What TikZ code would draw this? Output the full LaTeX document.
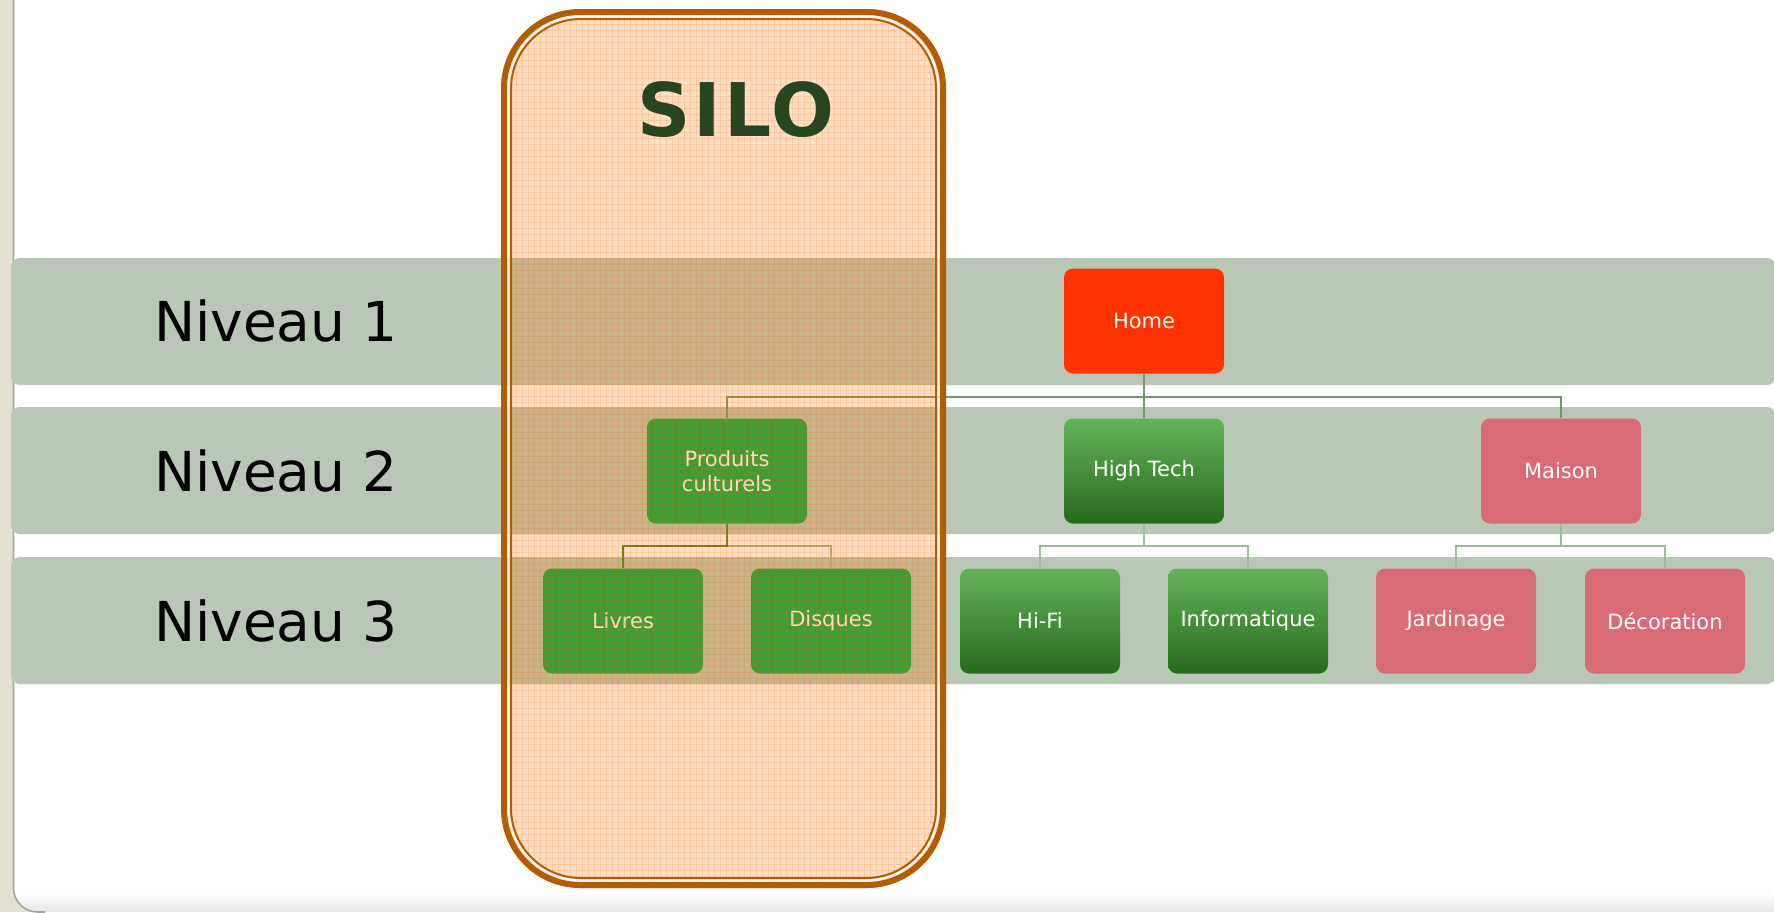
\documentclass[tikz,border=0pt]{standalone}
\usepackage{fontspec}
\setmainfont{DejaVu Sans}
\newfontfamily\silofont[LetterSpace=4]{DejaVu Sans}
\usetikzlibrary{calc,patterns}
\definecolor{band}{HTML}{B9C8B6}
\definecolor{homered}{HTML}{FF3300}
\definecolor{rose}{HTML}{D96B76}
\definecolor{gtop}{HTML}{64B45A}
\definecolor{gbot}{HTML}{266A1C}
\definecolor{flatgreen}{RGB}{0,176,72}
\definecolor{silobrown}{HTML}{B35C00}
\definecolor{siloorange}{RGB}{246,109,0}
\definecolor{silotext}{HTML}{27451F}
\definecolor{linedark}{HTML}{6E9A6E}
\definecolor{linelight}{HTML}{9DBB9B}
\definecolor{lineolive}{HTML}{3F8A25}
\definecolor{beige}{HTML}{E5DED3}
\begin{document}
\begin{tikzpicture}[x=0.5pt,y=-0.5pt,
 box/.style={rounded corners=4.5pt, minimum width=80pt, minimum height=52.5pt, text=white, font=\fontsize{10.5}{12.5}\selectfont, align=center, inner sep=0pt},
 gradbox/.style={box, top color=gtop, bottom color=gbot},
 flatbox/.style={box, fill=flatgreen},
 rosebox/.style={box, fill=rose},
 redbox/.style={box, fill=homered},
 bandbox/.style={fill=band, rounded corners=4.5pt},
 level/.style={font=\fontsize{27.5}{30}\selectfont, text=black},
 conn/.style={draw=linedark, line width=1.1pt},
 connl/.style={draw=linelight, line width=1.1pt},
 connd/.style={draw=lineolive, line width=1.1pt},
]
\useasboundingbox (0,0) rectangle (1774,912);
% background panel
\fill[beige] (0,0) rectangle (1774,912);
\begin{scope}
\clip[rounded corners=12pt] (13,-40) rectangle (1820,912);
\fill[white] (0,0) rectangle (1774,912);
\shade[top color=white, bottom color=black!10] (0,893) rectangle (1774,912);
\end{scope}
\draw[gray!70, line width=0.8pt, rounded corners=12pt] (13.5,-40) -- (13.5,912) -- (45,912);
% bands
\fill[bandbox] (11,258) rectangle (1776,385);
\fill[bandbox] (11,407) rectangle (1776,534);
\fill[bandbox] (11,557) rectangle (1776,684);
% level labels
\node[level] (n1) at (276,321) {Niveau 1};
\node[level] (n2) at (276,471) {Niveau 2};
\node[level] (n3) at (276,621) {Niveau 3};
% boxes
\node[redbox] (home) at (1144,321) {Home};
\node[flatbox] (prod) at (727,471) {Produits\\culturels};
\node[gradbox] (ht) at (1144,471) {High Tech};
\node[rosebox] (mai) at (1561,471) {Maison};
\node[flatbox] (liv) at (623,621) {Livres};
\node[flatbox] (dis) at (831,621) {Disques};
\node[gradbox] (hifi) at (1040,621) {Hi-Fi};
\node[gradbox] (info) at (1248,621) {Informatique};
\node[rosebox] (jard) at (1456,621) {Jardinage};
\node[rosebox] (deco) at (1665,621) {Décoration};
% connectors
\coordinate (b1) at ($(home.south)+(0,23)$);
\coordinate (b2) at ($(prod.south)+(0,22)$);
\coordinate (b3) at ($(ht.south)+(0,22)$);
\coordinate (b4) at ($(mai.south)+(0,22)$);
\draw[conn] (home.south) -- (ht.north);
\draw[conn] (prod.north) |- (b1) -| (mai.north);
\draw[connl] (b2) -| (dis.north);
\draw[connd] (prod.south) -- (b2) -| (liv.north);
\draw[connl] (ht.south) -- (b3) -| (hifi.north);
\draw[connl] (b3) -| (info.north);
\draw[connl] (mai.south) -- (b4) -| (jard.north);
\draw[connl] (b4) -| (deco.north);
% silo overlay
\fill[siloorange, opacity=0.22, rounded corners=40pt] (501,9) rectangle (946,888);
\fill[pattern=grid, pattern color=siloorange, opacity=0.18, rounded corners=40pt] (501,9) rectangle (946,888);
\draw[silobrown, line width=3pt, rounded corners=38pt] (504,12) rectangle (943,885);
\draw[white, opacity=0.85, line width=1.1pt, rounded corners=36.5pt] (508.5,16.5) rectangle (938.5,880.5);
\draw[silobrown, line width=1pt, rounded corners=35pt] (511,19) rectangle (936,878);
\node[font=\silofont\bfseries\fontsize{37}{40}\selectfont, text=silotext] (silo) at (736,110) {SILO};
\end{tikzpicture}
\end{document}
